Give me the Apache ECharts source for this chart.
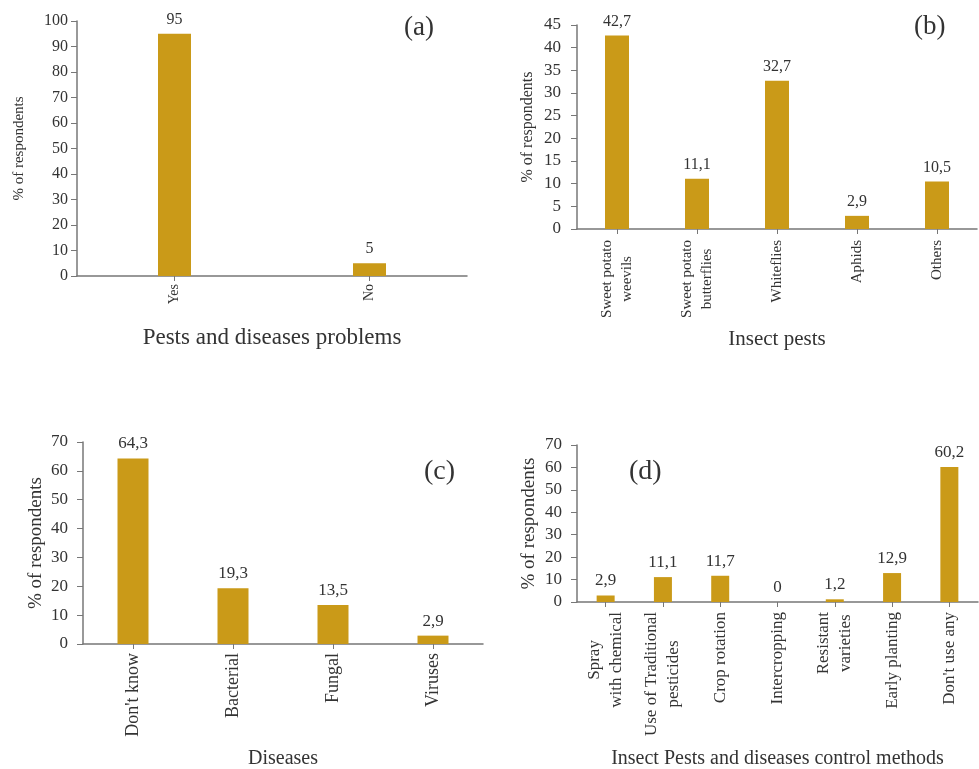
<!DOCTYPE html>
<html>
<head>
<meta charset="utf-8">
<script src="https://cdn.jsdelivr.net/npm/echarts@6/dist/echarts.min.js"></script>
<style>html,body{margin:0;padding:0;background:#fff}#c{width:979px;height:769px}</style>
</head>
<body>
<div id="c"></div>
<script>
// ---- data ----
const catsA = ['Yes', 'No'];
const valsA = [95, 5];
const catsB = ['Sweet potato\nweevils', 'Sweet potato\nbutterflies', 'Whiteflies', 'Aphids', 'Others'];
const valsB = [42.7, 11.1, 32.7, 2.9, 10.5];
const catsC = ["Don't know", 'Bacterial', 'Fungal', 'Viruses'];
const valsC = [64.3, 19.3, 13.5, 2.9];
const catsD = ['Spray\nwith chemical', 'Use of Traditional\npesticides', 'Crop rotation', 'Intercropping', 'Resistant\nvarieties', 'Early planting', "Don't use any"];
const valsD = [2.9, 11.1, 11.7, 0, 1.2, 12.9, 60.2];
const panelLabels = ['(a)', '(b)', '(c)', '(d)'];
const xTitles = ['Pests and diseases problems', 'Insect pests', 'Diseases', 'Insect Pests and diseases control methods'];
const yTitle = '% of respondents';

// ---- style ----
const FONT = "'Liberation Serif', 'Times New Roman', serif";
const BAR = '#CA9A18';
const AX = '#777777';
const TXT = '#333333';

const panels = [
  {cats: catsA, vals: valsA, grid: {left: 77, top: 21, width: 390, height: 255}, max: 100, interval: 10,
   tick: 16, tickMargin: 9, cat: 14, catLH: 16, val: 16, yName: 15, yGap: 50, xName: 23, xGap: 50, catMargin: 8, barWidth: 33,
   lab: {left: 404, top: 14, size: 27}},
  {cats: catsB, vals: valsB, grid: {left: 577, top: 25, width: 400, height: 204}, max: 45, interval: 5,
   tick: 17, tickMargin: 16, cat: 15, catLH: 20, val: 16, yName: 16, yGap: 41, xName: 21, xGap: 100, catMargin: 11, barWidth: 24,
   lab: {left: 914, top: 13, size: 27}},
  {cats: catsC, vals: valsC, grid: {left: 83, top: 442, width: 400, height: 202}, max: 70, interval: 10,
   tick: 17, tickMargin: 15, cat: 18, catLH: 20, val: 17, yName: 19, yGap: 37, xName: 20, xGap: 105, catMargin: 9, barWidth: 31,
   lab: {left: 424, top: 458, size: 28}},
  {cats: catsD, vals: valsD, grid: {left: 577, top: 445, width: 401, height: 157}, max: 70, interval: 10,
   tick: 17, tickMargin: 15, cat: 17, catLH: 22, val: 17, yName: 19, yGap: 38, xName: 20, xGap: 147, catMargin: 10, barWidth: 18,
   lab: {left: 629, top: 458, size: 28}}
];

const fmtNum = v => String(v).replace('.', ',');

const option = {
  backgroundColor: '#fff',
  animation: false,
  title: panels.map((p, i) => ({
    text: panelLabels[i], left: p.lab.left, top: p.lab.top, padding: 0,
    textStyle: {fontFamily: FONT, fontSize: p.lab.size, fontWeight: 'normal', color: TXT}
  })),
  grid: panels.map(p => Object.assign({containLabel: false, outerBoundsMode: 'none'}, p.grid)),
  xAxis: panels.map((p, i) => ({
    type: 'category', gridIndex: i, data: p.cats,
    name: xTitles[i], nameLocation: 'middle', nameGap: p.xGap,
    nameTextStyle: {fontFamily: FONT, fontSize: p.xName, color: TXT, verticalAlign: 'top'},
    axisLine: {lineStyle: {color: AX, width: 1.5}},
    axisTick: {show: true, alignWithLabel: true, length: 5, lineStyle: {color: AX}},
    axisLabel: {
      rotate: 90, margin: p.catMargin, interval: 0, color: TXT,
      fontFamily: FONT, fontSize: p.cat, lineHeight: p.catLH,
      formatter: v => v.split('\n').map(s => '{c|' + s + '}').join('\n'),
      rich: {c: {align: 'center', fontFamily: FONT, fontSize: p.cat, lineHeight: p.catLH, color: TXT}}
    },
    splitLine: {show: false}
  })),
  yAxis: panels.map((p, i) => ({
    type: 'value', gridIndex: i, min: 0, max: p.max, interval: p.interval,
    name: yTitle, nameLocation: 'middle', nameGap: p.yGap, nameRotate: 90,
    nameTextStyle: {fontFamily: FONT, fontSize: p.yName, color: TXT},
    axisLine: {show: true, lineStyle: {color: AX, width: 1.5}},
    axisTick: {show: true, length: 6, lineStyle: {color: AX}},
    axisLabel: {fontFamily: FONT, fontSize: p.tick, color: TXT, margin: p.tickMargin},
    splitLine: {show: false}
  })),
  series: panels.map((p, i) => ({
    type: 'bar', xAxisIndex: i, yAxisIndex: i, data: p.vals, barWidth: p.barWidth,
    itemStyle: {color: BAR},
    label: {show: true, position: 'top', distance: 6, fontFamily: FONT, fontSize: p.val, color: TXT,
            formatter: d => fmtNum(d.value)}
  }))
};

const chart = echarts.init(document.getElementById('c'), null, {renderer: 'canvas'});
chart.setOption(option);
</script>
</body>
</html>
